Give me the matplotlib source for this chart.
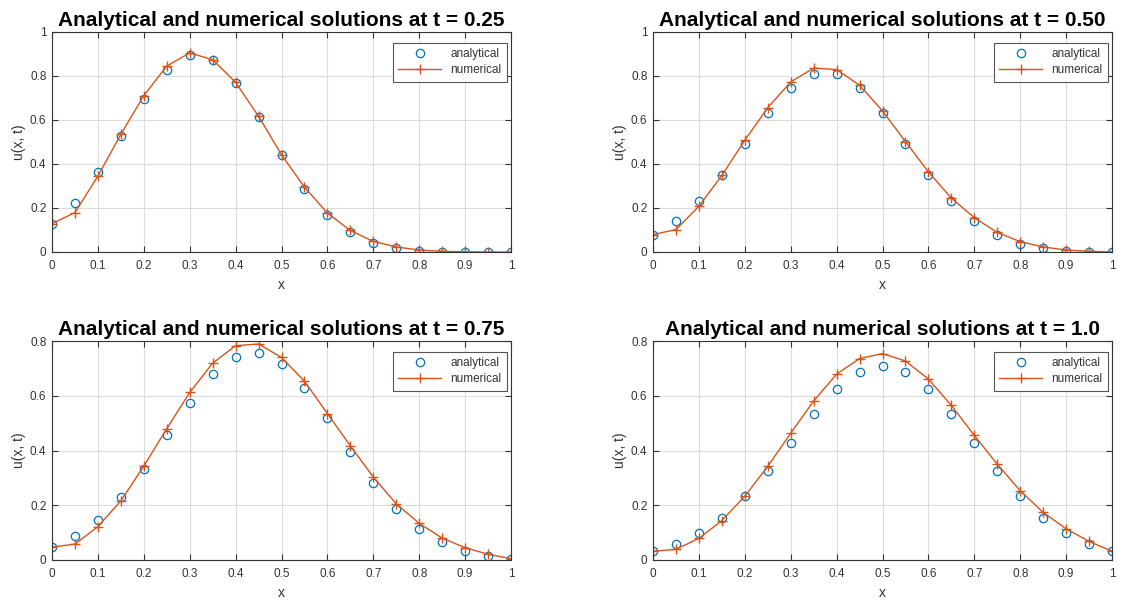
import numpy as np
import matplotlib
matplotlib.use("Agg")
import matplotlib.pyplot as plt

plt.rcParams['font.family'] = ['Liberation Sans', 'DejaVu Sans']

x = np.round(np.arange(0, 1.0001, 0.05), 2)

times = ['0.25', '0.50', '0.75', '1.0']

ana_025 = [0.129, 0.224, 0.364, 0.527, 0.695, 0.829, 0.894, 0.871, 0.768, 0.614, 0.442,
           0.285, 0.168, 0.091, 0.041, 0.018, 0.006, 0.002, 0.0, 0.0, 0.0]
num_025 = [0.129, 0.179, 0.345, 0.535, 0.711, 0.845, 0.905, 0.874, 0.771, 0.617, 0.442,
           0.295, 0.177, 0.098, 0.048, 0.023, 0.009, 0.003, 0.001, 0.0, 0.0]

ana_050 = [0.079, 0.141, 0.232, 0.352, 0.492, 0.633, 0.747, 0.811, 0.811, 0.747, 0.632,
           0.492, 0.352, 0.233, 0.141, 0.077, 0.038, 0.018, 0.006, 0.002, 0.0]
num_050 = [0.079, 0.102, 0.208, 0.348, 0.508, 0.656, 0.773, 0.836, 0.829, 0.758, 0.641,
           0.502, 0.364, 0.245, 0.156, 0.089, 0.047, 0.023, 0.009, 0.003, 0.0]

ana_075 = [0.047, 0.086, 0.146, 0.229, 0.334, 0.456, 0.575, 0.678, 0.740, 0.755, 0.715,
           0.630, 0.519, 0.396, 0.280, 0.185, 0.113, 0.064, 0.033, 0.015, 0.005]
num_075 = [0.047, 0.058, 0.122, 0.216, 0.343, 0.480, 0.612, 0.719, 0.783, 0.789, 0.740,
           0.653, 0.535, 0.417, 0.303, 0.205, 0.134, 0.080, 0.045, 0.021, 0.005]

ana_100 = [0.032, 0.057, 0.097, 0.155, 0.233, 0.326, 0.428, 0.533, 0.624, 0.687, 0.708,
           0.687, 0.624, 0.533, 0.428, 0.326, 0.233, 0.155, 0.097, 0.057, 0.032]
num_100 = [0.032, 0.039, 0.079, 0.144, 0.233, 0.342, 0.463, 0.581, 0.679, 0.736, 0.754,
           0.727, 0.661, 0.565, 0.455, 0.350, 0.253, 0.174, 0.114, 0.068, 0.032]

analytical = [ana_025, ana_050, ana_075, ana_100]
numerical = [num_025, num_050, num_075, num_100]
ymax = [1.0, 1.0, 0.8, 0.8]

W, H = 1128, 608
boxes = [(52, 32, 459, 220), (653, 32, 459, 220),
         (52, 341, 459, 219), (653, 341, 459, 219)]

fig = plt.figure(figsize=(W / 100, H / 100), dpi=100)
blue = '#0072BD'
orange = '#D95319'
gray = '#333333'

for i in range(4):
    l, t, w, h = boxes[i]
    ax = fig.add_axes([l / W, (H - t - h) / H, w / W, h / H])
    ax.plot(x, analytical[i], 'o', mfc='none', mec=blue, ms=6, mew=0.9, label='analytical')
    ax.plot(x, numerical[i], '-+', color=orange, lw=1.0, ms=7, mew=1.0, label='numerical')
    ax.set_xlim(0, 1)
    ax.set_ylim(0, ymax[i])
    ax.set_xticks(np.arange(0, 1.01, 0.1))
    ax.set_xticklabels(['0', '0.1', '0.2', '0.3', '0.4', '0.5', '0.6', '0.7', '0.8', '0.9', '1'])
    if ymax[i] == 1.0:
        ax.set_yticks([0, 0.2, 0.4, 0.6, 0.8, 1.0])
        ax.set_yticklabels(['0', '0.2', '0.4', '0.6', '0.8', '1'])
    else:
        ax.set_yticks([0, 0.2, 0.4, 0.6, 0.8])
        ax.set_yticklabels(['0', '0.2', '0.4', '0.6', '0.8'])
    ax.grid(True, color='#dcdcdc', lw=0.8)
    ax.set_axisbelow(True)
    ax.tick_params(direction='in', top=True, right=True, labelsize=8.5, colors=gray,
                   length=4, width=0.8)
    ax.tick_params(axis='x', pad=6)
    ax.tick_params(axis='y', pad=4)
    for s in ax.spines.values():
        s.set_color(gray)
        s.set_linewidth(0.8)
    ax.set_xlabel('x', fontsize=10, color=gray, labelpad=4)
    ax.set_ylabel('u(x, t)', fontsize=10, color=gray, labelpad=3)
    ax.set_title('Analytical and numerical solutions at t = ' + times[i],
                 fontsize=15, fontweight='bold', pad=4.5)
    leg = ax.legend(loc='upper right', bbox_to_anchor=(0.991, 0.95), fontsize=8.5,
                    fancybox=False, framealpha=1, edgecolor='#555555', borderaxespad=0,
                    handlelength=3.6, borderpad=0.45, labelspacing=0.35, handletextpad=0.8)
    leg.get_frame().set_linewidth(0.8)
    for txt in leg.get_texts():
        txt.set_color(gray)

fig.savefig('out.png', dpi=100)
